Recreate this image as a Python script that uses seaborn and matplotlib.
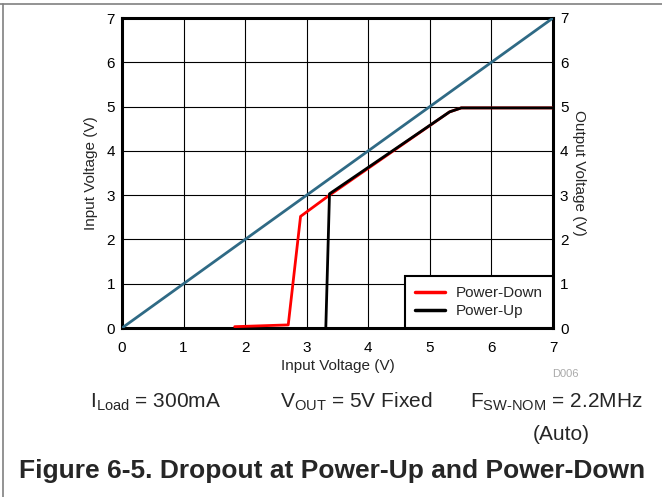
import matplotlib
matplotlib.use('Agg')
import matplotlib.pyplot as plt
import pandas as pd
import seaborn as sns
from matplotlib.lines import Line2D

# Values (volts)
VIN_REF = [0, 7]
VOUT_REF = [0, 7]

DOWN_VIN = [1.83, 2.70, 2.90, 3.37, 5.32, 5.51, 7.0]
DOWN_VOUT = [0.03, 0.07, 2.52, 3.00, 4.88, 4.97, 4.97]

UP_VIN = [3.31, 3.37, 5.32, 5.51, 7.0]
UP_VOUT = [0.0, 3.03, 4.88, 4.97, 4.97]

TICKS = [0, 1, 2, 3, 4, 5, 6, 7]

BLUE = '#2f6a85'


def main():
    sns.set_theme(style='white')
    plt.rcParams['font.family'] = ['Liberation Sans', 'DejaVu Sans']
    plt.rcParams['mathtext.fontset'] = 'custom'
    plt.rcParams['mathtext.rm'] = 'Liberation Sans'

    fig = plt.figure(figsize=(6.62, 4.97), dpi=100)
    ax = fig.add_axes([122 / 662, 1 - 328 / 497, 431 / 662, 310 / 497])

    ref = pd.DataFrame({'Vin': VIN_REF, 'Vout': VOUT_REF})
    down = pd.DataFrame({'Vin': DOWN_VIN, 'Vout': DOWN_VOUT})
    up = pd.DataFrame({'Vin': UP_VIN, 'Vout': UP_VOUT})

    sns.lineplot(data=ref, x='Vin', y='Vout', sort=False, color=BLUE,
                 linewidth=2.0, ax=ax, zorder=3)
    sns.lineplot(data=down, x='Vin', y='Vout', sort=False, color='#ff0000',
                 linewidth=2.0, ax=ax, zorder=4)
    sns.lineplot(data=up, x='Vin', y='Vout', sort=False, color='black',
                 linewidth=2.0, ax=ax, zorder=5)

    ax.set_xlim(0, 7)
    ax.set_ylim(0, 7)
    ax.set_xticks(TICKS)
    ax.set_yticks(TICKS)
    ax.grid(True, color='black', linewidth=0.8)
    ax.tick_params(labelsize=11, length=0, pad=5, colors='black')
    ax.tick_params(axis='x', pad=9)
    ax.set_xlabel('Input Voltage (V)', fontsize=11, labelpad=3)
    ax.set_ylabel('Input Voltage (V)', fontsize=11, labelpad=6)
    for sp in ax.spines.values():
        sp.set_visible(True)
        sp.set_color('black')
        sp.set_linewidth(2.2)

    ax2 = ax.twinx()
    ax2.set_ylim(0, 7)
    ax2.set_yticks(TICKS)
    ax2.tick_params(labelsize=11, length=0, pad=5, colors='black')
    ax2.set_ylabel('Output Voltage (V)', fontsize=11, rotation=270,
                   labelpad=13)
    ax2.grid(False)
    for sp in ax2.spines.values():
        sp.set_visible(False)

    handles = [Line2D([], [], color='#ff0000', linewidth=2.5),
               Line2D([], [], color='black', linewidth=2.5)]
    leg = ax.legend(handles, ['Power-Down', 'Power-Up'], loc='lower right',
                    borderaxespad=0, fontsize=11, fancybox=False,
                    framealpha=1, edgecolor='black', handlelength=2.0,
                    borderpad=0.65, labelspacing=0.25, handletextpad=0.7)
    leg.get_frame().set_linewidth(1.5)
    leg.set_zorder(10)

    fig.text(565 / 662, 1 - 374 / 497, 'D006', fontsize=8, color='#aaaaaa',
             ha='center', va='center')

    fig.text(90 / 662, 1 - 402 / 497, r'I$_{\mathrm{Load}}$ = 300mA',
             fontsize=15, ha='left', va='center')
    fig.text(280 / 662, 1 - 402 / 497, r'V$_{\mathrm{OUT}}$ = 5V Fixed',
             fontsize=15, ha='left', va='center')
    fig.text(470 / 662, 1 - 402 / 497, r'F$_{\mathrm{SW\text{-}NOM}}$ = 2.2MHz',
             fontsize=15, ha='left', va='center')
    fig.text(561 / 662, 1 - 435 / 497, '(Auto)', fontsize=15,
             ha='center', va='center')

    fig.text(332 / 662, 1 - 471 / 497,
             'Figure 6-5. Dropout at Power-Up and Power-Down',
             fontsize=19, fontweight='bold', ha='center', va='center')

    # page frame lines
    fig.add_artist(Line2D([0, 1], [1 - 4 / 497] * 2, color='#808080',
                          linewidth=1.2, transform=fig.transFigure))
    fig.add_artist(Line2D([3 / 662] * 2, [0, 1 - 4 / 497], color='#808080',
                          linewidth=1.2, transform=fig.transFigure))

    fig.savefig('out.png', dpi=100)


if __name__ == '__main__':
    main()
